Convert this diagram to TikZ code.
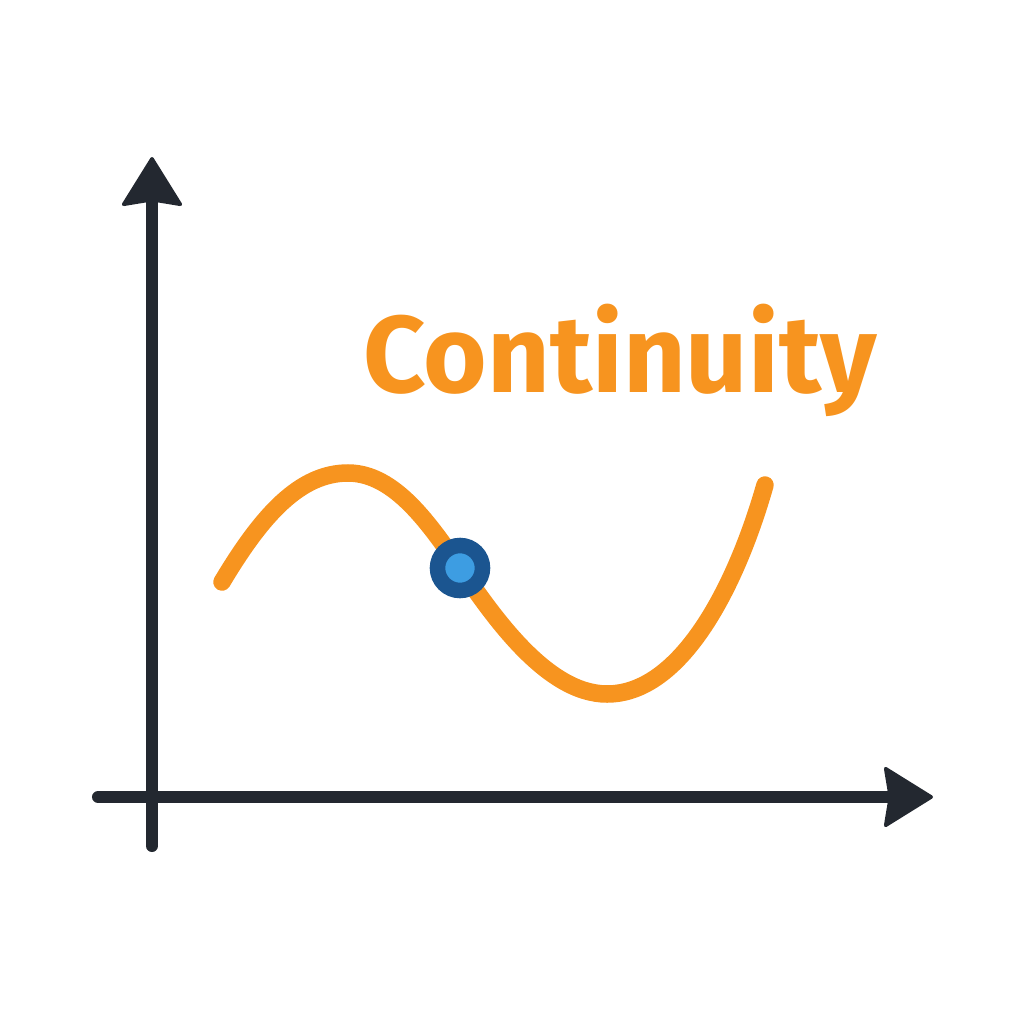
\documentclass[tikz,border=0pt]{standalone}
\usepackage{fontspec}
\newfontfamily\titlefont{Fira Sans}
\usepackage{tikz}
\usetikzlibrary{arrows.meta}
\usetikzlibrary{positioning}

\definecolor{axisdark}{HTML}{232830}
\definecolor{curveorange}{HTML}{F7941F}
\definecolor{dotdark}{HTML}{1B5590}
\definecolor{dotlight}{HTML}{3D9DE2}

\begin{document}
\begin{tikzpicture}[
  x=0.01cm, y=-0.01cm,
  >={Stealth[length=5.1mm, width=6.3mm, inset=0.5mm, round, line width=1pt]},
  axis/.style={draw=axisdark, line width=1.2mm, line cap=round, ->},
  curve/.style={draw=curveorange, line width=1.75mm, line cap=round},
  dot/.style={circle, draw=dotdark, fill=dotlight, line width=1.55mm, minimum size=4.5mm, inner sep=0pt},
  titletext/.style={text=curveorange, font=\titlefont\bfseries\fontsize{31}{37}\selectfont, inner sep=0pt, anchor=base}
]
\useasboundingbox (0,0) rectangle (1024,1024);

% axes
\coordinate (ybot) at (152,846);
\coordinate (ytop) at (152,157);
\coordinate (xleft) at (98,797);
\coordinate (xright) at (933,797);
\draw[axis] (ybot) -- (ytop);
\draw[axis] (xleft) -- (xright);

% curve
\coordinate (c0) at (222,582);
\coordinate (c1) at (348,473);
\coordinate (c2) at (460,568);
\coordinate (c3) at (607,694);
\coordinate (c4) at (765,485);
\draw[curve] (c0) .. controls (262,515) and (300,473) .. (c1)
  .. controls (395,473) and (430,525) .. (c2)
  .. controls (490,611) and (545,694) .. (c3)
  .. controls (680,694) and (735,590) .. (c4);

% point on the curve
\node[dot] (pt) at (c2) {};

% label
\node[titletext] (title) at (620,392) {Continuity};

\end{tikzpicture}
\end{document}
